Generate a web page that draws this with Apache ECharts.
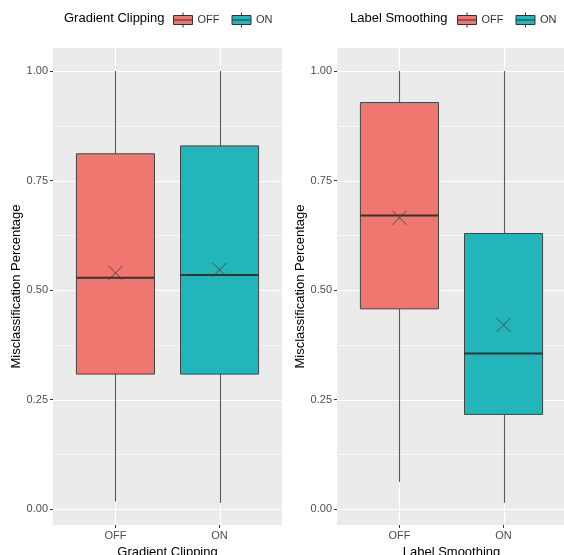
<!DOCTYPE html>
<html>
<head>
<meta charset="utf-8">
<script src="https://cdn.jsdelivr.net/npm/echarts@6/dist/echarts.min.js"></script>
<style>
  html, body { margin: 0; padding: 0; background: #ffffff; }
  #chart { width: 564px; height: 555px; }
</style>
</head>
<body>
<div id="chart"></div>
<script>
// Categories and panel labels
const categories = ['OFF', 'ON'];
const panelTitles = ['Gradient Clipping', 'Label Smoothing'];
const yAxisTitle = 'Misclassification Percentage';
const yTicks = [0, 0.25, 0.5, 0.75, 1];
const yMinorTicks = [0.125, 0.375, 0.625, 0.875];

// Box statistics: [min, q1, median, q3, max, mean]
const gradientOff = [0.017, 0.308, 0.528, 0.811, 1.00, 0.539];
const gradientOn = [0.014, 0.308, 0.534, 0.829, 1.00, 0.546];
const smoothingOff = [0.062, 0.457, 0.670, 0.928, 1.00, 0.665];
const smoothingOn = [0.014, 0.216, 0.355, 0.629, 1.00, 0.420];

const panelStats = [
  [gradientOff, gradientOn],
  [smoothingOff, smoothingOn]
];

const FONT = '"Liberation Sans", Arial, sans-serif';
const fillColors = { OFF: '#F0776F', ON: '#22B6BA' };
const Y_MIN = -0.0365, Y_MAX = 1.0525;
const X_MIN = 0.4, X_MAX = 2.6;
const BOX_HALF = 0.375;

const chart = echarts.init(document.getElementById('chart'), null, { renderer: 'canvas' });

// Panel gridlines: [kind, value] where kind 0 = major horizontal, 1 = minor horizontal, 2 = vertical
function gridlineData() {
  const d = [];
  yMinorTicks.forEach(v => d.push([1, v]));
  yTicks.forEach(v => d.push([0, v]));
  categories.forEach((c, i) => d.push([2, i + 1]));
  return d;
}

function renderGridline(params, api) {
  const kind = api.value(0);
  const val = api.value(1);
  const cs = params.coordSys;
  if (kind === 2) {
    const x = Math.round(api.coord([val, 0])[0]) + 0.5;
    return { type: 'line', shape: { x1: x, y1: cs.y, x2: x, y2: cs.y + cs.height },
      style: { stroke: '#ffffff', lineWidth: 1.1 } };
  }
  const y = Math.round(api.coord([1, val])[1]) + 0.5;
  return { type: 'line', shape: { x1: cs.x, y1: y, x2: cs.x + cs.width, y2: y },
    style: { stroke: '#ffffff', lineWidth: kind === 0 ? 1.1 : 0.6 } };
}

function renderBox(params, api) {
  const x = api.value(0);
  const mn = api.value(1), q1 = api.value(2), md = api.value(3),
        q3 = api.value(4), mx = api.value(5), mean = api.value(6);
  const tl = api.coord([x - BOX_HALF, q3]);
  const br = api.coord([x + BOX_HALF, q1]);
  const top = api.coord([x, mx]);
  const bot = api.coord([x, mn]);
  const med = api.coord([x, md]);
  const mp = api.coord([x, mean]);
  const color = api.visual('color');
  const cx = Math.round(top[0]) + 0.5;
  const r = 7;
  const whisker = { stroke: '#5a5a5a', lineWidth: 1.1 };
  return {
    type: 'group',
    children: [
      { type: 'line', shape: { x1: cx, y1: top[1], x2: cx, y2: tl[1] }, style: whisker },
      { type: 'line', shape: { x1: cx, y1: br[1], x2: cx, y2: bot[1] }, style: whisker },
      { type: 'rect', shape: { x: tl[0], y: tl[1], width: br[0] - tl[0], height: br[1] - tl[1] },
        style: { fill: color, stroke: '#444444', lineWidth: 1 } },
      { type: 'line', shape: { x1: tl[0], y1: med[1], x2: br[0], y2: med[1] },
        style: { stroke: '#333333', lineWidth: 2 } },
      { type: 'line', shape: { x1: mp[0] - r, y1: mp[1] - r, x2: mp[0] + r, y2: mp[1] + r },
        style: { stroke: '#3a3a3a', lineWidth: 0.8 } },
      { type: 'line', shape: { x1: mp[0] - r, y1: mp[1] + r, x2: mp[0] + r, y2: mp[1] - r },
        style: { stroke: '#3a3a3a', lineWidth: 0.8 } }
    ]
  };
}

const panelLefts = [53, 337];
const titleLefts = [64, 350];
const legendLefts = [173, 457];
// Legend key: box with median line and whisker stubs
const keyIcon = 'path://M0,3H19V12H0Z M0,7.5H19 M9.5,0V3 M9.5,12V15';

const grid = [], xAxis = [], yAxis = [], series = [], title = [], legend = [];

panelTitles.forEach((name, p) => {
  grid.push({ left: panelLefts[p], top: 48, width: 229, height: 477,
    show: true, backgroundColor: '#EBEBEB', borderWidth: 0,
    containLabel: false, outerBoundsMode: 'none' });

  xAxis.push({
    gridIndex: p, type: 'value', min: X_MIN, max: X_MAX, position: 'bottom',
    name: name, nameLocation: 'middle', nameGap: 20,
    nameTextStyle: { fontFamily: FONT, fontSize: 13, color: '#000000' },
    axisLine: { show: false, onZero: false },
    axisTick: { show: true, length: 3, customValues: [1, 2], lineStyle: { color: '#333333', width: 1 } },
    axisLabel: { customValues: [1, 2], margin: 5, fontFamily: FONT, fontSize: 11, color: '#4D4D4D',
      formatter: v => categories[Math.round(v) - 1] },
    splitLine: { show: false }
  });

  yAxis.push({
    gridIndex: p, type: 'value', min: Y_MIN, max: Y_MAX, position: 'left',
    name: yAxisTitle, nameLocation: 'middle', nameGap: 30,
    nameTextStyle: { fontFamily: FONT, fontSize: 13, color: '#000000' },
    axisLine: { show: false, onZero: false },
    axisTick: { show: true, length: 3, customValues: yTicks, lineStyle: { color: '#333333', width: 1 } },
    axisLabel: { customValues: yTicks, margin: 5, fontFamily: FONT, fontSize: 11, color: '#4D4D4D',
      formatter: v => v.toFixed(2) },
    splitLine: { show: false }
  });

  series.push({
    type: 'custom', name: 'grid' + p, xAxisIndex: p, yAxisIndex: p, z: 1, silent: true,
    renderItem: renderGridline, data: gridlineData(), clip: false
  });

  categories.forEach((cat, i) => {
    series.push({
      type: 'custom', name: cat, xAxisIndex: p, yAxisIndex: p, z: 3,
      itemStyle: { color: fillColors[cat], borderColor: '#333333', borderWidth: 1 },
      renderItem: renderBox,
      encode: { x: 0, y: [1, 2, 3, 4, 5] },
      data: [[i + 1].concat(panelStats[p][i])]
    });
  });

  title.push({
    text: name, left: titleLefts[p], top: 12, padding: 0,
    textStyle: { fontFamily: FONT, fontSize: 13, fontWeight: 'normal', color: '#000000' }
  });

  legend.push({
    left: legendLefts[p], top: 12, padding: 0, orient: 'horizontal',
    itemWidth: 19, itemHeight: 15, itemGap: 12, selectedMode: false,
    icon: keyIcon,
    data: categories.map(c => ({ name: c,
      itemStyle: { color: fillColors[c], borderColor: '#333333', borderWidth: 1 } })),
    textStyle: { fontFamily: FONT, fontSize: 11, color: '#333333' }
  });
});

chart.setOption({
  animation: false,
  backgroundColor: '#ffffff',
  textStyle: { fontFamily: FONT },
  title, legend, grid, xAxis, yAxis, series
});
</script>
</body>
</html>
